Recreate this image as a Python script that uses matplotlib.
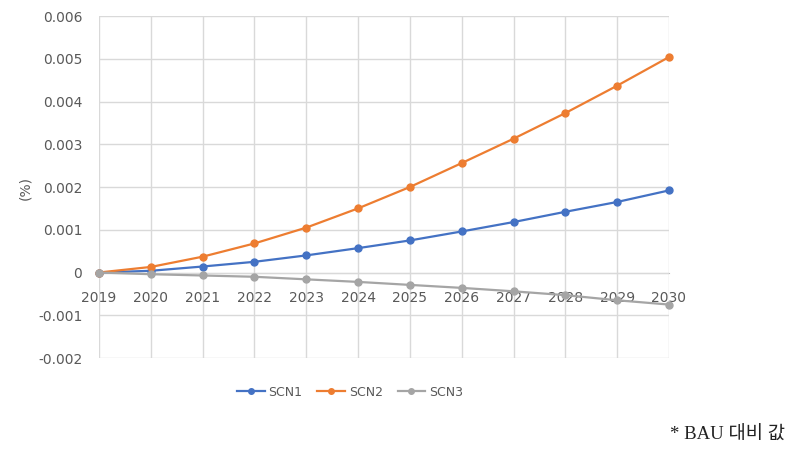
import matplotlib.pyplot as plt

# data
years = [2019, 2020, 2021, 2022, 2023, 2024, 2025, 2026, 2027, 2028, 2029, 2030]
scn1 = [0, 0.00004, 0.00014, 0.00025, 0.00040, 0.00057, 0.00075, 0.00096, 0.00118, 0.00142, 0.00165, 0.00192]
scn2 = [0, 0.00013, 0.00037, 0.00068, 0.00105, 0.00150, 0.00200, 0.00256, 0.00313, 0.00373, 0.00437, 0.00504]
scn3 = [0, -0.00004, -0.00007, -0.00010, -0.00016, -0.00022, -0.00029, -0.00036, -0.00044, -0.00053, -0.00065, -0.00075]
series_names = ['SCN1', 'SCN2', 'SCN3']
y_ticks = [-0.002, -0.001, 0, 0.001, 0.002, 0.003, 0.004, 0.005, 0.006]
y_tick_labels = ['-0.002', '-0.001', '0', '0.001', '0.002', '0.003', '0.004', '0.005', '0.006']

colors = ['#4472C4', '#ED7D31', '#A5A5A5']
text_color = '#595959'

fig = plt.figure(figsize=(8.06, 4.58), dpi=100)
ax = fig.add_axes([99 / 806, 1 - 358 / 458, 570 / 806, 342 / 458])

for vals, name, c in zip([scn1, scn2, scn3], series_names, colors):
    ax.plot(years, vals, color=c, lw=1.6, marker='o', markersize=5, label=name,
            zorder=3, clip_on=False)

ax.set_xlim(2019, 2030)
ax.set_ylim(-0.002, 0.006)
ax.set_yticks(y_ticks)
ax.set_yticklabels(y_tick_labels)
ax.set_xticks(years)
ax.set_xticklabels([str(y) for y in years])

ax.grid(True, color='#D9D9D9', lw=1, zorder=0)
for s in ['top', 'right', 'left']:
    ax.spines[s].set_visible(False)
ax.spines['bottom'].set_position(('data', 0))
ax.spines['bottom'].set_color('#BFBFBF')
ax.spines['bottom'].set_zorder(1)

ax.tick_params(axis='x', length=0, pad=13, labelsize=10, labelcolor=text_color)
ax.tick_params(axis='y', length=0, pad=12, labelsize=10, labelcolor=text_color)

fig.text(25 / 806, 1 - 188 / 458, '(%)', rotation=90, ha='center', va='center',
         fontsize=10, color=text_color)

handles, labels = ax.get_legend_handles_labels()
fig.legend(handles, labels, loc='center', bbox_to_anchor=(350 / 806, 1 - 392 / 458),
           ncol=3, frameon=False, fontsize=9, labelcolor=text_color,
           handlelength=2.2, handletextpad=0.3, columnspacing=1.2, markerscale=0.8)

fig.text(785 / 806, 1 - 435 / 458, '* BAU 대비 값', ha='right', va='center',
         fontsize=13.5, family=['Liberation Serif', 'Noto Sans CJK KR'], color='#222222')

fig.savefig('out.png', dpi=100)
